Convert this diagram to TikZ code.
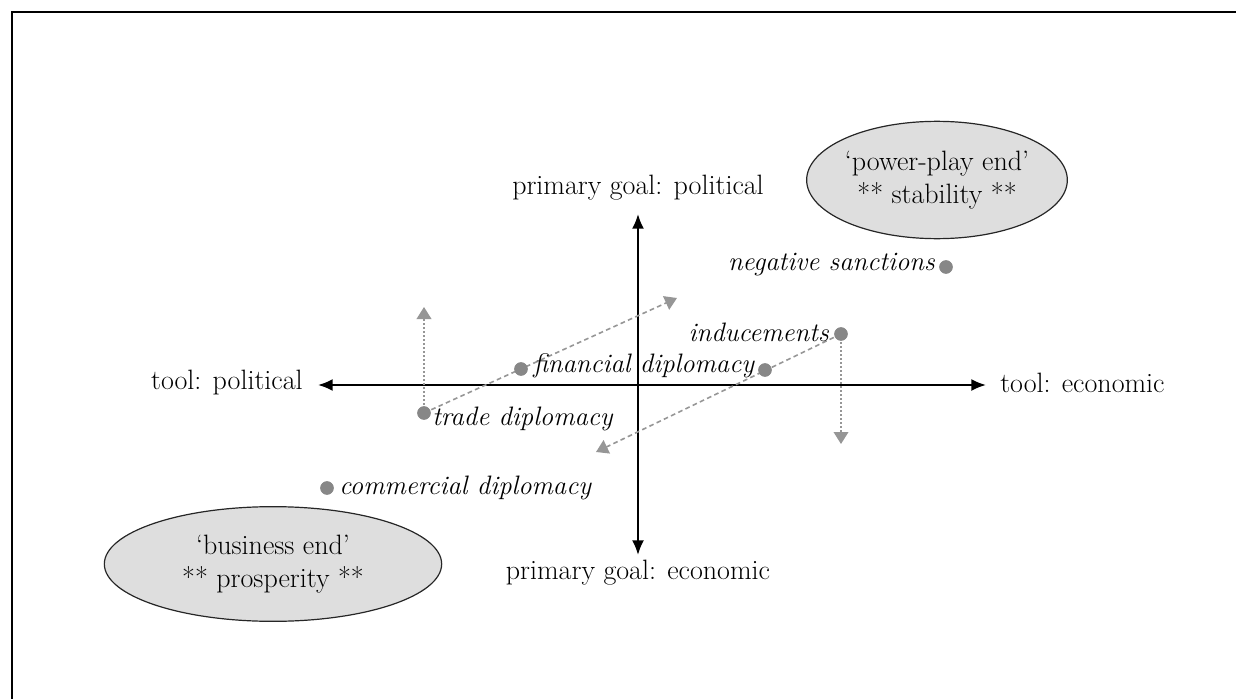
\documentclass[tikz,border=0pt]{standalone}
\usetikzlibrary{arrows.meta,shapes.geometric}
\definecolor{dotgray}{RGB}{135,135,135}
\definecolor{linegray}{RGB}{150,150,150}
\definecolor{ellfill}{RGB}{222,222,222}
\begin{document}
\begin{tikzpicture}[x=0.75pt,y=-0.75pt,
  lbl/.style={font=\fontsize{21}{25}\selectfont, inner sep=0pt},
  ilbl/.style={lbl, font=\fontsize{20}{25}\selectfont\itshape},
  dotnode/.style={circle, fill=dotgray, minimum size=10pt, inner sep=0pt},
  axisarrow/.style={line width=1.5pt, -{Latex[length=11pt,width=9pt]}},
  garrow/.style={linegray, line width=1.2pt, -{Triangle[length=9pt,width=11pt]}},
  dashline/.style={dash pattern=on 3.5pt off 2.5pt},
  dotline/.style={dash pattern=on 1.5pt off 1.5pt},
  endell/.style={ellipse, draw=black!85, line width=0.9pt, fill=ellfill, align=center,
    font=\fontsize{21}{24.5}\selectfont, inner sep=0pt}
]
\useasboundingbox (0,0) rectangle (1236,699);
% frame (top and left edges)
\draw[line width=2pt] (12,699) -- (12,12) -- (1236,12);

% axes
\coordinate (axC) at (638,385);
\coordinate (axL) at (318,385);
\coordinate (axR) at (986,385);
\coordinate (axT) at (638,214);
\coordinate (axB) at (638,555);
\draw[axisarrow] (axC) -- (axL);
\draw[axisarrow] (axC) -- (axR);
\draw[axisarrow] (axC) -- (axT);
\draw[axisarrow] (axC) -- (axB);

\node[lbl, anchor=east] (tpol) at (303,383) {tool: political};
\node[lbl, anchor=west] (teco) at (1000,383) {tool: economic};
\node[lbl] (gpol) at (638,188) {primary goal: political};
\node[lbl] (geco) at (638,573) {primary goal: economic};

% ellipses
\node[endell, minimum width=166pt, minimum height=88pt] (power) at (937,180)
  {`power-play end'\\** stability **};
\node[endell, minimum width=253pt, minimum height=86pt] (business) at (273,564)
  {`business end'\\** prosperity **};

% points
\node[dotnode] (neg) at (946,267) {};
\node[dotnode] (ind) at (841,334) {};
\node[dotnode] (mid) at (765,370) {};
\node[dotnode] (fin) at (521,369) {};
\node[dotnode] (trade) at (424,413) {};
\node[dotnode] (comm) at (327,488) {};

\coordinate (tradeUp) at (424,307);
\coordinate (finTip) at (677,298);
\coordinate (indTip) at (596,452);
\coordinate (indDown) at (841,444);

\draw[garrow, dotline] (trade.center) -- (tradeUp);
\draw[garrow, dashline] (trade.center) -- (finTip);
\draw[garrow, dashline] (ind.center) -- (indTip);
\draw[garrow, dotline] (ind.center) -- (indDown);

% redraw dots on top
\foreach \n in {neg,ind,mid,fin,trade,comm} \fill[dotgray] (\n) circle (5pt);

\node[ilbl, anchor=east] (negl) at (935,265) {negative sanctions};
\node[ilbl, anchor=east] (indl) at (829,332) {inducements};
\node[ilbl, anchor=west] (finl) at (533,366) {financial diplomacy};
\node[ilbl, anchor=west] (tradel) at (432,419) {trade diplomacy};
\node[ilbl, anchor=west] (comml) at (339,488) {commercial diplomacy};
\end{tikzpicture}
\end{document}
